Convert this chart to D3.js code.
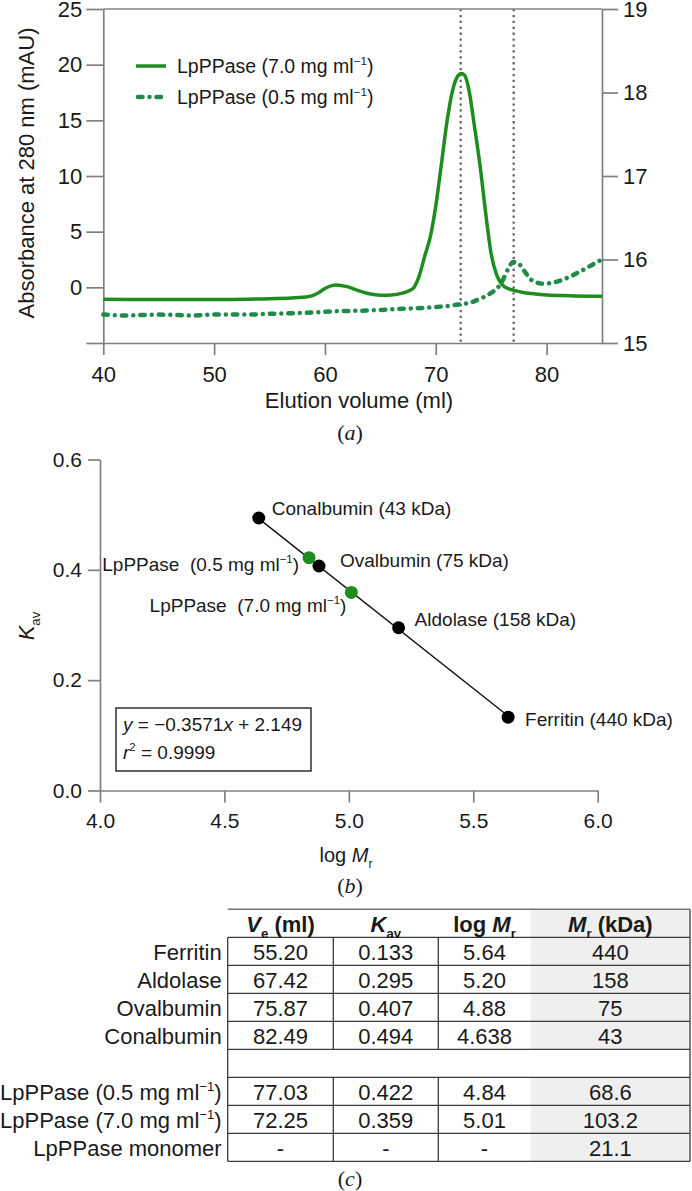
<!DOCTYPE html>
<html>
<head>
<meta charset="utf-8">
<script src="https://cdn.jsdelivr.net/npm/d3@7"></script>
<style>
  html, body { margin: 0; padding: 0; background: #fff; }
  svg { display: block; font-family: "Liberation Sans", Arial, sans-serif; }
  text { white-space: pre; }
</style>
</head>
<body>
<script>
// ---------------- DATA ----------------
// (a) elution profiles
const elutionTicks = [40, 50, 60, 70, 80];
const absLeftTicks = [-5, 0, 5, 10, 15, 20, 25];
const absRightTicks = [15, 16, 17, 18, 19];
const hi_x = [40, 45, 50, 55, 57, 58, 59, 59.5, 60, 61, 62, 63, 64, 65, 66, 67, 67.5, 68, 68.5, 69, 69.5, 70, 70.5, 71, 71.5, 72, 72.3, 72.6, 73, 73.5, 74, 74.5, 75, 75.5, 76, 76.5, 77, 78, 79, 80, 82, 85];
const hi_y = [-1.08, -1.1, -1.1, -1.02, -0.95, -0.9, -0.7, -0.45, -0.1, 0.22, 0.06, -0.3, -0.58, -0.7, -0.68, -0.52, -0.35, -0.05, 1.0, 2.8, 4.5, 7.3, 11.0, 14.8, 17.6, 19.0, 19.2, 19.05, 17.7, 14.4, 10.9, 6.7, 3.0, 1.1, 0.25, -0.1, -0.25, -0.48, -0.6, -0.68, -0.75, -0.8];
const lo_x = [40, 42, 45, 48, 50, 53, 55, 58, 61, 64, 67, 70, 72, 73, 74, 75, 75.5, 76, 76.5, 77, 77.4, 78, 78.5, 79, 79.7, 80.5, 81.5, 82.5, 83.5, 84.3, 85];
const lo_y = [15.34, 15.33, 15.34, 15.33, 15.34, 15.34, 15.35, 15.36, 15.38, 15.39, 15.41, 15.43, 15.46, 15.48, 15.53, 15.6, 15.65, 15.74, 15.88, 15.97, 15.96, 15.86, 15.77, 15.73, 15.71, 15.72, 15.76, 15.82, 15.89, 15.95, 16.0];
const peakVe = [72.25, 77.03];

// (b) calibration
const logMrTicks = [4.0, 4.5, 5.0, 5.5, 6.0];
const kavTicks = [0.0, 0.2, 0.4, 0.6];
const stdNames = ["Ferritin (440 kDa)", "Aldolase (158 kDa)", "Ovalbumin (75 kDa)", "Conalbumin (43 kDa)"];
const stdLogMr = [5.64, 5.20, 4.88, 4.638];
const stdKav = [0.133, 0.295, 0.407, 0.494];
const smpLogMr = [4.84, 5.01];
const smpKav = [0.422, 0.359];
const fitSlope = -0.3571, fitIntercept = 2.149;

// (c) table
const tProteins = ["Ferritin", "Aldolase", "Ovalbumin", "Conalbumin"];
const tVe = ["55.20", "67.42", "75.87", "82.49"];
const tKav = ["0.133", "0.295", "0.407", "0.494"];
const tLogMr = ["5.64", "5.20", "4.88", "4.638"];
const tMr = ["440", "158", "75", "43"];
const sVe = ["77.03", "72.25", "-"];
const sKav = ["0.422", "0.359", "-"];
const sLogMr = ["4.84", "5.01", "-"];
const sMr = ["68.6", "103.2", "21.1"];

// ---------------- HELPERS ----------------
const AX = "#808080", TXT = "#1a1a1a";
const GREEN = "#1e8c1e", GREEN2 = "#208a4a";

function rich(sel, parts, fs) {
  // parts: [text, style] style in {'', 'sup', 'sub', 'i', 'b', 'bi'}
  let shift = 0;
  parts.forEach(([t, st]) => {
    const ts = sel.append("tspan").text(t);
    let target = 0;
    if (st === "sup") { target = -0.42 * fs; ts.attr("font-size", 0.6 * fs); }
    else if (st === "sub" || st === "bsub") { target = 0.28 * fs; ts.attr("font-size", 0.6 * fs); }
    if (st === "i" || st === "bi") ts.attr("font-style", "italic");
    if (st === "b" || st === "bi" || st === "bsub") ts.attr("font-weight", "bold");
    if (target !== shift) { ts.attr("dy", target - shift); shift = target; }
  });
  return sel;
}
function styleAxis(g, fs) {
  g.selectAll(".domain").attr("stroke", AX).attr("stroke-width", 1.7);
  g.selectAll(".tick line").attr("stroke", AX).attr("stroke-width", 1.7);
  g.selectAll(".tick text").attr("fill", TXT).attr("font-size", fs).attr("font-family", "Liberation Sans, Arial, sans-serif");
}

const svg = d3.select("body").append("svg").attr("width", 692).attr("height", 1191);

// ---------------- (a) ----------------
const xA = d3.scaleLinear().domain([40, 85]).range([103.3, 602]);
const yL = d3.scaleLinear().domain([-5, 25]).range([343, 9]);
const yR = d3.scaleLinear().domain([15, 19]).range([343, 9]);
const gA = svg.append("g");

// dotted peak lines
gA.selectAll("line.peak").data(peakVe).join("line")
  .attr("x1", d => xA(d)).attr("x2", d => xA(d))
  .attr("y1", yL(25)).attr("y2", yL(-5) + 2)
  .attr("stroke", "#666").attr("stroke-width", 2.3).attr("stroke-dasharray", "2.3 3.6");

// top border
gA.append("line").attr("x1", xA(40)).attr("x2", xA(85)).attr("y1", yL(25)).attr("y2", yL(25))
  .attr("stroke", AX).attr("stroke-width", 1.7);

const axL = gA.append("g").attr("transform", `translate(${xA(40)},0)`)
  .call(d3.axisLeft(yL).tickValues(absLeftTicks).tickSize(17).tickSizeOuter(0).tickPadding(4)
    .tickFormat(d => d < 0 ? "" : d3.format("d")(d)));
styleAxis(axL, 22);
const axR = gA.append("g").attr("transform", `translate(${xA(85)},0)`)
  .call(d3.axisRight(yR).tickValues(absRightTicks).tickSize(16).tickSizeOuter(0).tickPadding(5).tickFormat(d3.format("d")));
styleAxis(axR, 22);
const axB = gA.append("g").attr("transform", `translate(0,${yL(-5)})`)
  .call(d3.axisBottom(xA).tickValues(elutionTicks).tickSize(12).tickSizeOuter(0).tickPadding(11).tickFormat(d3.format("d")));
styleAxis(axB, 22);

// lines
const lineHi = d3.line().x(d => xA(d[0])).y(d => yL(d[1])).curve(d3.curveMonotoneX);
const lineLo = d3.line().x(d => xA(d[0])).y(d => yR(d[1])).curve(d3.curveMonotoneX);
gA.append("path").datum(lo_x.map((x, i) => [x, lo_y[i]])).attr("d", lineLo)
  .attr("fill", "none").attr("stroke", GREEN2).attr("stroke-width", 4.5)
  .attr("stroke-linecap", "round").attr("stroke-dasharray", "4.5 7 0.01 7");
gA.append("path").datum(hi_x.map((x, i) => [x, hi_y[i]])).attr("d", lineHi)
  .attr("fill", "none").attr("stroke", GREEN).attr("stroke-width", 3.5).attr("stroke-linejoin", "round");

// legend
const leg = gA.append("g");
leg.append("line").attr("x1", 136).attr("x2", 166).attr("y1", 66).attr("y2", 66)
  .attr("stroke", GREEN).attr("stroke-width", 3.5);
leg.append("line").attr("x1", 138).attr("x2", 164).attr("y1", 97).attr("y2", 97)
  .attr("stroke", GREEN2).attr("stroke-width", 4.5).attr("stroke-linecap", "round").attr("stroke-dasharray", "4.5 7 0.01 7");
rich(leg.append("text").attr("x", 177).attr("y", 73).attr("font-size", 19.5).attr("fill", TXT),
  [["LpPPase (7.0 mg ml", ""], ["\u22121", "sup"], [")", ""]], 19.5);
rich(leg.append("text").attr("x", 177).attr("y", 104).attr("font-size", 19.5).attr("fill", TXT),
  [["LpPPase (0.5 mg ml", ""], ["\u22121", "sup"], [")", ""]], 19.5);

// axis titles
gA.append("text").attr("transform", `translate(34,${(yL(-5) + yL(25)) / 2 - 3}) rotate(-90)`)
  .attr("text-anchor", "middle").attr("font-size", 22).attr("fill", TXT).text("Absorbance at 280 nm (mAU)");
gA.append("text").attr("x", 359).attr("y", 408).attr("text-anchor", "middle").attr("font-size", 22)
  .attr("fill", TXT).text("Elution volume (ml)");
function caption(x, y, letter) {
  const t = svg.append("text").attr("x", x).attr("y", y).attr("text-anchor", "middle")
    .attr("font-family", "Liberation Serif, Times New Roman, serif").attr("font-size", 22).attr("fill", TXT);
  t.append("tspan").text("(");
  t.append("tspan").attr("font-style", "italic").text(letter);
  t.append("tspan").text(")");
}
caption(350, 440, "a");

// ---------------- (b) ----------------
const xB = d3.scaleLinear().domain([4, 6]).range([100, 597.7]);
const yB = d3.scaleLinear().domain([0, 0.6]).range([790.5, 459.5]);
const gB = svg.append("g");
const bL = gB.append("g").attr("transform", `translate(${xB(4)},0)`)
  .call(d3.axisLeft(yB).tickValues(kavTicks).tickSize(12).tickSizeOuter(0).tickPadding(6).tickFormat(d3.format(".1f")));
styleAxis(bL, 21);
const bB = gB.append("g").attr("transform", `translate(0,${yB(0)})`)
  .call(d3.axisBottom(xB).tickValues(logMrTicks).tickSize(12).tickSizeOuter(0).tickPadding(11).tickFormat(d3.format(".1f")));
styleAxis(bB, 21);

// fit line between extreme standards
const fitX = d3.extent(stdLogMr);
gB.append("line")
  .attr("x1", xB(fitX[0])).attr("y1", yB(fitSlope * fitX[0] + fitIntercept))
  .attr("x2", xB(fitX[1])).attr("y2", yB(fitSlope * fitX[1] + fitIntercept))
  .attr("stroke", "#111").attr("stroke-width", 1.4);

gB.selectAll("circle.std").data(stdLogMr).join("circle")
  .attr("cx", d => xB(d)).attr("cy", (d, i) => yB(stdKav[i])).attr("r", 6.5).attr("fill", "#000");
gB.selectAll("circle.smp").data(smpLogMr).join("circle")
  .attr("cx", d => xB(d)).attr("cy", (d, i) => yB(smpKav[i])).attr("r", 6.5).attr("fill", GREEN);

// point labels (offsets from points)
const stdOff = [[17, 9], [16, -2], [21, 1], [13, -3]];
stdNames.forEach((n, i) => {
  gB.append("text").attr("x", xB(stdLogMr[i]) + stdOff[i][0]).attr("y", yB(stdKav[i]) + stdOff[i][1])
    .attr("font-size", 19).attr("fill", TXT).text(n);
});
const smpLabels = [["LpPPase  (0.5 mg ml", -10, 13], ["LpPPase  (7.0 mg ml", -5, 20]];
smpLabels.forEach(([t, dx, dy], i) => {
  rich(gB.append("text").attr("x", xB(smpLogMr[i]) + dx).attr("y", yB(smpKav[i]) + dy)
    .attr("text-anchor", "end").attr("font-size", 19).attr("fill", TXT),
    [[t, ""], ["\u22121", "sup"], [")", ""]], 19);
});

// equation box
gB.append("rect").attr("x", 116).attr("y", 708).attr("width", 195).attr("height", 63)
  .attr("fill", "#fff").attr("stroke", "#222").attr("stroke-width", 1.4);
rich(gB.append("text").attr("x", 123).attr("y", 731).attr("font-size", 19).attr("fill", TXT),
  [["y", "i"], [" = \u22120.3571", ""], ["x", "i"], [" + 2.149", ""]], 19);
rich(gB.append("text").attr("x", 123).attr("y", 759).attr("font-size", 19).attr("fill", TXT),
  [["r", "i"], ["2", "sup"], [" = 0.9999", ""]], 19);

// axis titles
rich(gB.append("text").attr("transform", "translate(34,626) rotate(-90)").attr("text-anchor", "middle")
  .attr("font-size", 22).attr("fill", TXT), [["K", "i"], ["av", "sub"]], 22);
rich(gB.append("text").attr("x", 346).attr("y", 862).attr("text-anchor", "middle")
  .attr("font-size", 20).attr("fill", TXT), [["log ", ""], ["M", "i"], ["r", "sub"]], 20);
caption(350, 893, "b");

// ---------------- (c) table ----------------
const gC = svg.append("g");
const rowKeys = ["head", "s0", "s1", "s2", "s3", "gap", "p0", "p1", "p2"];
const yT = d3.scaleBand().domain(rowKeys).range([909.3, 1161.3]);
const colEdges = [227.7, 333.3, 438.3, 530.7, 690];
const colKeys = ["ve", "kav", "logmr", "mr"];
const xT = d3.scaleOrdinal().domain(colKeys).range(colEdges.slice(0, 4));
const colW = k => colEdges[colKeys.indexOf(k) + 1] - xT(k);
const colC = k => xT(k) + colW(k) / 2;
const FS = 22;

// shading of Mr column
rowKeys.filter(r => r !== "gap").forEach(r => {
  gC.append("rect").attr("x", xT("mr")).attr("y", yT(r)).attr("width", colW("mr")).attr("height", yT.bandwidth())
    .attr("fill", "#efefef");
});
// lines
const LC = "#3a3a3a";
gC.append("line").attr("x1", colEdges[0]).attr("x2", colEdges[4]).attr("y1", yT("head")).attr("y2", yT("head"))
  .attr("stroke", "#777").attr("stroke-width", 1.4);
rowKeys.slice(1).forEach(r => {
  gC.append("line").attr("x1", colEdges[0]).attr("x2", colEdges[4]).attr("y1", yT(r)).attr("y2", yT(r))
    .attr("stroke", LC).attr("stroke-width", 1.3);
});
gC.append("line").attr("x1", colEdges[0]).attr("x2", colEdges[4])
  .attr("y1", yT("p2") + yT.bandwidth()).attr("y2", yT("p2") + yT.bandwidth()).attr("stroke", LC).attr("stroke-width", 1.3);
gC.append("line").attr("x1", colEdges[0]).attr("x2", colEdges[0]).attr("y1", yT("s0")).attr("y2", yT("p2") + yT.bandwidth())
  .attr("stroke", LC).attr("stroke-width", 1.3);
gC.append("line").attr("x1", colEdges[4]).attr("x2", colEdges[4]).attr("y1", yT("head")).attr("y2", yT("p2") + yT.bandwidth())
  .attr("stroke", LC).attr("stroke-width", 1.3);
[["s0", "s3"], ["p0", "p2"]].forEach(([a, b]) => {
  [colEdges[1], colEdges[2]].forEach(cx => {
    gC.append("line").attr("x1", cx).attr("x2", cx).attr("y1", yT(a)).attr("y2", yT(b) + yT.bandwidth())
      .attr("stroke", LC).attr("stroke-width", 1.3);
  });
});

// header
const hdr = {
  ve: [["V", "bi"], ["e", "bsub"], [" (ml)", "b"]],
  kav: [["K", "bi"], ["av", "bsub"]],
  logmr: [["log ", "b"], ["M", "bi"], ["r", "bsub"]],
  mr: [["M", "bi"], ["r", "bsub"], [" (kDa)", "b"]]
};
colKeys.forEach(k => {
  rich(gC.append("text").attr("x", colC(k)).attr("y", yT("head") + 22.5).attr("text-anchor", "middle")
    .attr("font-size", FS).attr("fill", TXT), hdr[k], FS);
});
// standard rows
const stdCols = { ve: tVe, kav: tKav, logmr: tLogMr, mr: tMr };
tProteins.forEach((p, i) => {
  const r = "s" + i;
  gC.append("text").attr("x", colEdges[0] - 6).attr("y", yT(r) + 23).attr("text-anchor", "end")
    .attr("font-size", FS).attr("fill", TXT).text(p);
  colKeys.forEach(k => {
    gC.append("text").attr("x", colC(k)).attr("y", yT(r) + 23).attr("text-anchor", "middle")
      .attr("font-size", FS).attr("fill", TXT).text(stdCols[k][i]);
  });
});
// sample rows
const smpCols = { ve: sVe, kav: sKav, logmr: sLogMr, mr: sMr };
const smpNames = [
  [["LpPPase (0.5 mg ml", ""], ["\u22121", "sup"], [")", ""]],
  [["LpPPase (7.0 mg ml", ""], ["\u22121", "sup"], [")", ""]],
  [["LpPPase monomer", ""]]
];
smpNames.forEach((parts, i) => {
  const r = "p" + i;
  rich(gC.append("text").attr("x", colEdges[0] - 6).attr("y", yT(r) + 23).attr("text-anchor", "end")
    .attr("font-size", FS).attr("fill", TXT), parts, FS);
  colKeys.forEach(k => {
    gC.append("text").attr("x", colC(k)).attr("y", yT(r) + 23).attr("text-anchor", "middle")
      .attr("font-size", FS).attr("fill", TXT).text(smpCols[k][i]);
  });
});
caption(350, 1186, "c");
</script>
</body>
</html>
